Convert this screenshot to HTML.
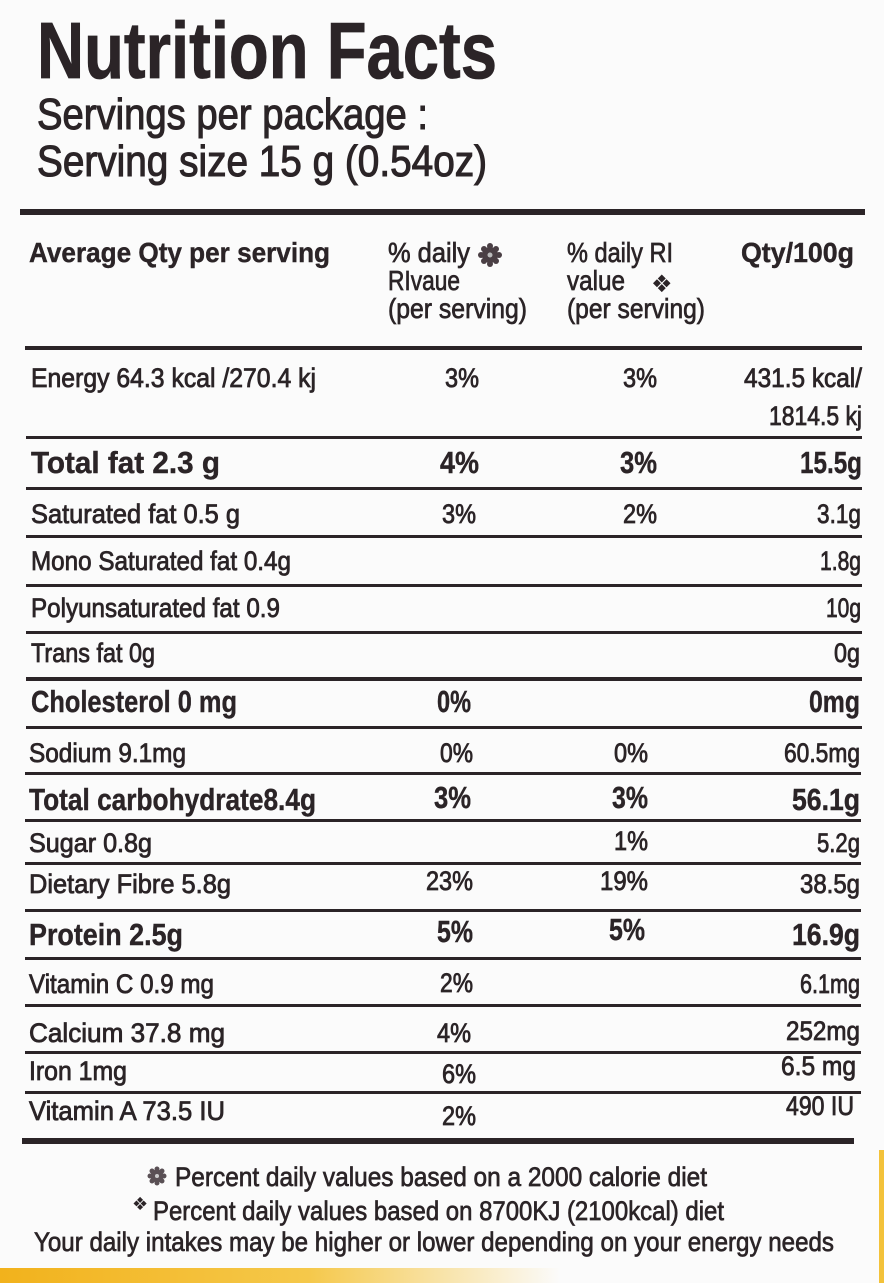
<!DOCTYPE html>
<html><head><meta charset="utf-8"><style>
html,body{margin:0;padding:0;background:#fbfbfb;}
svg{display:block;}
text{font-family:"Liberation Sans","DejaVu Sans",sans-serif;fill:#2b2427;}
.r{font-size:27px;stroke:#2b2427;stroke-width:0.8px;}
.b{font-size:31px;font-weight:bold;stroke:#2b2427;stroke-width:0.4px;}
.h{font-size:28px;stroke:#2b2427;stroke-width:0.7px;}
.f{font-size:27px;stroke:#2b2427;stroke-width:0.7px;}
</style></head><body>
<svg width="884" height="1283" viewBox="0 0 884 1283" xmlns="http://www.w3.org/2000/svg">
<defs>
<linearGradient id="yb" x1="0" x2="1" y1="0" y2="0">
<stop offset="0" stop-color="#f2b21c"/><stop offset="0.55" stop-color="#f5c84a"/><stop offset="1" stop-color="#fbfbfb"/>
</linearGradient>
</defs>
<rect width="884" height="1283" fill="#fbfbfb"/>
<rect x="0" y="1268" width="560" height="15" fill="url(#yb)"/>
<rect x="879" y="1150" width="5" height="133" fill="#f3c23a"/>

<!-- Title -->
<text x="37" y="78" font-size="80" font-weight="bold" textLength="460" lengthAdjust="spacingAndGlyphs" stroke="#2b2427" stroke-width="0.8">Nutrition Facts</text>
<text x="37" y="129" font-size="44" textLength="391" lengthAdjust="spacingAndGlyphs" stroke="#2b2427" stroke-width="1.1">Servings per package :</text>
<text x="37" y="176" font-size="44" textLength="450" lengthAdjust="spacingAndGlyphs" stroke="#2b2427" stroke-width="1.1">Serving size 15 g (0.54oz)</text>

<rect x="20" y="209" width="845" height="6" fill="#2b2427"/>

<!-- Header -->
<text x="29" y="262" font-size="28" font-weight="bold" textLength="301" lengthAdjust="spacingAndGlyphs" stroke="#2b2427" stroke-width="0.4">Average Qty per serving</text>
<text class="h" x="388" y="262" textLength="82" lengthAdjust="spacingAndGlyphs">% daily</text>
<g fill="#4a3f44">
<circle cx="490" cy="255" r="8"/>
<circle cx="490" cy="246" r="3"/><circle cx="490" cy="264" r="3"/><circle cx="481" cy="255" r="3"/><circle cx="499" cy="255" r="3"/>
<circle cx="484" cy="249" r="3"/><circle cx="496" cy="249" r="3"/><circle cx="484" cy="261" r="3"/><circle cx="496" cy="261" r="3"/>
</g>
<circle cx="490" cy="255" r="2.5" fill="#bbb"/>
<text class="h" x="388" y="290" textLength="72" lengthAdjust="spacingAndGlyphs">RIvaue</text>
<text class="h" x="388" y="318" textLength="139" lengthAdjust="spacingAndGlyphs">(per serving)</text>
<text class="h" x="567" y="262" textLength="106" lengthAdjust="spacingAndGlyphs">% daily RI</text>
<text class="h" x="567" y="290" textLength="58" lengthAdjust="spacingAndGlyphs">value</text>
<text x="651" y="292" font-size="24" fill="#3a3035">❖</text>
<text class="h" x="567" y="318" textLength="138" lengthAdjust="spacingAndGlyphs">(per serving)</text>
<text x="741" y="262" font-size="28" font-weight="bold" textLength="113" lengthAdjust="spacingAndGlyphs" stroke="#2b2427" stroke-width="0.4">Qty/100g</text>

<rect x="25" y="346" width="837" height="4" fill="#2b2427"/>

<!-- Energy -->
<text class="r" x="31" y="387" textLength="285" lengthAdjust="spacingAndGlyphs">Energy 64.3 kcal /270.4 kj</text>
<text class="r" x="445" y="387" textLength="34" lengthAdjust="spacingAndGlyphs">3%</text>
<text class="r" x="623" y="387" textLength="34" lengthAdjust="spacingAndGlyphs">3%</text>
<text class="r" x="744" y="387" textLength="118" lengthAdjust="spacingAndGlyphs">431.5 kcal/</text>
<text class="r" x="769" y="425" textLength="93" lengthAdjust="spacingAndGlyphs">1814.5 kj</text>
<rect x="26" y="436" width="836" height="3" fill="#2b2427"/>

<!-- Total fat -->
<text class="b" x="31" y="473" textLength="189" lengthAdjust="spacingAndGlyphs">Total fat  2.3 g</text>
<text class="b" x="440" y="473" textLength="39" lengthAdjust="spacingAndGlyphs">4%</text>
<text class="b" x="620" y="473" textLength="37" lengthAdjust="spacingAndGlyphs">3%</text>
<text class="b" x="800" y="473" textLength="62" lengthAdjust="spacingAndGlyphs">15.5g</text>
<rect x="26" y="487" width="836" height="3" fill="#2b2427"/>

<text class="r" x="31" y="523" textLength="209" lengthAdjust="spacingAndGlyphs">Saturated fat  0.5 g</text>
<text class="r" x="442" y="523" textLength="34" lengthAdjust="spacingAndGlyphs">3%</text>
<text class="r" x="623" y="523" textLength="34" lengthAdjust="spacingAndGlyphs">2%</text>
<text class="r" x="817" y="523" textLength="44" lengthAdjust="spacingAndGlyphs">3.1g</text>
<rect x="26" y="535" width="836" height="3" fill="#2b2427"/>

<text class="r" x="31" y="570" textLength="260" lengthAdjust="spacingAndGlyphs">Mono Saturated fat 0.4g</text>
<text class="r" x="820" y="570" textLength="41" lengthAdjust="spacingAndGlyphs">1.8g</text>
<rect x="26" y="584" width="836" height="3" fill="#2b2427"/>

<text class="r" x="31" y="617" textLength="249" lengthAdjust="spacingAndGlyphs">Polyunsaturated fat 0.9</text>
<text class="r" x="826" y="617" textLength="35" lengthAdjust="spacingAndGlyphs">10g</text>
<rect x="26" y="631" width="836" height="3" fill="#2b2427"/>

<text class="r" x="31" y="662" textLength="124" lengthAdjust="spacingAndGlyphs">Trans fat 0g</text>
<text class="r" x="834" y="662" textLength="26" lengthAdjust="spacingAndGlyphs">0g</text>
<rect x="26" y="677" width="836" height="4" fill="#2b2427"/>

<text class="b" x="31" y="712" textLength="206" lengthAdjust="spacingAndGlyphs">Cholesterol 0 mg</text>
<text class="b" x="437" y="712" textLength="34" lengthAdjust="spacingAndGlyphs">0%</text>
<text class="b" x="809" y="712" textLength="51" lengthAdjust="spacingAndGlyphs">0mg</text>
<rect x="26" y="726" width="836" height="3" fill="#2b2427"/>

<text class="r" x="29" y="762" textLength="157" lengthAdjust="spacingAndGlyphs">Sodium 9.1mg</text>
<text class="r" x="440" y="762" textLength="33" lengthAdjust="spacingAndGlyphs">0%</text>
<text class="r" x="614" y="762" textLength="34" lengthAdjust="spacingAndGlyphs">0%</text>
<text class="r" x="784" y="762" textLength="76" lengthAdjust="spacingAndGlyphs">60.5mg</text>
<rect x="25" y="772" width="836" height="3" fill="#2b2427"/>

<text class="b" x="29" y="810" textLength="287" lengthAdjust="spacingAndGlyphs">Total carbohydrate8.4g</text>
<text class="b" x="434" y="808" textLength="37" lengthAdjust="spacingAndGlyphs">3%</text>
<text class="b" x="612" y="808" textLength="36" lengthAdjust="spacingAndGlyphs">3%</text>
<text class="b" x="792" y="810" textLength="68" lengthAdjust="spacingAndGlyphs">56.1g</text>
<rect x="25" y="819" width="836" height="3" fill="#2b2427"/>

<text class="r" x="29" y="852" textLength="123" lengthAdjust="spacingAndGlyphs">Sugar  0.8g</text>
<text class="r" x="614" y="850" textLength="34" lengthAdjust="spacingAndGlyphs">1%</text>
<text class="r" x="817" y="852" textLength="43" lengthAdjust="spacingAndGlyphs">5.2g</text>
<rect x="25" y="862" width="836" height="3" fill="#2b2427"/>

<text class="r" x="29" y="893" textLength="202" lengthAdjust="spacingAndGlyphs">Dietary Fibre  5.8g</text>
<text class="r" x="426" y="890" textLength="47" lengthAdjust="spacingAndGlyphs">23%</text>
<text class="r" x="600" y="890" textLength="48" lengthAdjust="spacingAndGlyphs">19%</text>
<text class="r" x="800" y="893" textLength="60" lengthAdjust="spacingAndGlyphs">38.5g</text>
<rect x="25" y="909" width="836" height="3" fill="#2b2427"/>

<text class="b" x="29" y="945" textLength="154" lengthAdjust="spacingAndGlyphs">Protein 2.5g</text>
<text class="b" x="437" y="942" textLength="36" lengthAdjust="spacingAndGlyphs">5%</text>
<text class="b" x="609" y="940" textLength="36" lengthAdjust="spacingAndGlyphs">5%</text>
<text class="b" x="792" y="945" textLength="68" lengthAdjust="spacingAndGlyphs">16.9g</text>
<rect x="25" y="957" width="836" height="3" fill="#2b2427"/>

<text class="r" x="29" y="993" textLength="185" lengthAdjust="spacingAndGlyphs">Vitamin C 0.9 mg</text>
<text class="r" x="440" y="992" textLength="33" lengthAdjust="spacingAndGlyphs">2%</text>
<text class="r" x="800" y="993" textLength="60" lengthAdjust="spacingAndGlyphs">6.1mg</text>
<rect x="25" y="1004" width="836" height="3" fill="#2b2427"/>

<text class="r" x="29" y="1042" textLength="196" lengthAdjust="spacingAndGlyphs">Calcium  37.8  mg</text>
<text class="r" x="437" y="1042" textLength="34" lengthAdjust="spacingAndGlyphs">4%</text>
<text class="r" x="786" y="1040" textLength="74" lengthAdjust="spacingAndGlyphs">252mg</text>
<rect x="25" y="1051" width="836" height="3" fill="#2b2427"/>

<text class="r" x="29" y="1080" textLength="98" lengthAdjust="spacingAndGlyphs">Iron 1mg</text>
<text class="r" x="442" y="1083" textLength="34" lengthAdjust="spacingAndGlyphs">6%</text>
<text class="r" x="781" y="1075" textLength="75" lengthAdjust="spacingAndGlyphs">6.5 mg</text>
<rect x="25" y="1091" width="836" height="3" fill="#2b2427"/>

<text class="r" x="29" y="1120" textLength="196" lengthAdjust="spacingAndGlyphs">Vitamin A 73.5  IU</text>
<text class="r" x="442" y="1125" textLength="34" lengthAdjust="spacingAndGlyphs">2%</text>
<text class="r" x="786" y="1115" textLength="68" lengthAdjust="spacingAndGlyphs">490 IU</text>

<rect x="22" y="1138" width="832" height="6" fill="#2b2427"/>

<!-- Footnotes -->
<g fill="#5a5055">
<circle cx="157" cy="1176" r="6.5"/>
<circle cx="157" cy="1169" r="2.5"/><circle cx="157" cy="1183" r="2.5"/><circle cx="150" cy="1176" r="2.5"/><circle cx="164" cy="1176" r="2.5"/>
<circle cx="152" cy="1171" r="2.5"/><circle cx="162" cy="1171" r="2.5"/><circle cx="152" cy="1181" r="2.5"/><circle cx="162" cy="1181" r="2.5"/>
</g>
<circle cx="157" cy="1176" r="2" fill="#ccc"/>
<text class="f" x="175" y="1186" textLength="532" lengthAdjust="spacingAndGlyphs">Percent daily values based on a 2000 calorie diet</text>
<text x="132" y="1210" font-size="18" fill="#5a5055">❖</text>
<text class="f" x="153" y="1220" textLength="571" lengthAdjust="spacingAndGlyphs">Percent daily values based on 8700KJ (2100kcal) diet</text>
<text class="f" x="34" y="1251" textLength="800" lengthAdjust="spacingAndGlyphs">Your daily intakes may be higher or lower depending on your energy needs</text>
</svg>
</body></html>
